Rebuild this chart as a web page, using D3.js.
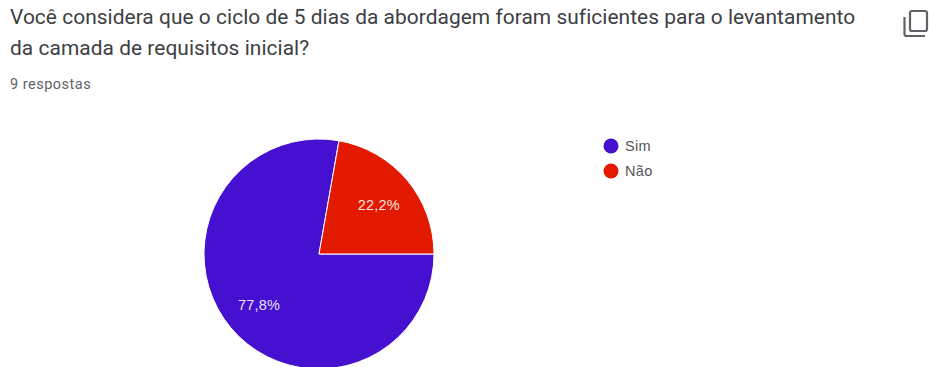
<!DOCTYPE html>
<html lang="pt">
<head>
<meta charset="utf-8">
<script src="https://cdn.jsdelivr.net/npm/d3@7/dist/d3.min.js"></script>
<style>
  html, body { margin: 0; padding: 0; background: #fff; overflow: hidden; }
  svg { display: block; }
</style>
</head>
<body>
<svg id="chart" width="929" height="367"></svg>
<script>
const titleLines = [
  "Você considera que o ciclo de 5 dias da abordagem foram suficientes para o levantamento",
  "da camada de requisitos inicial?"
];
const subtitle = "9 respostas";
const categories = ["Sim", "Não"];
const counts = [7, 2];
const sliceLabels = ["77,8%", "22,2%"];
const colors = ["#4510cf", "#e31a00"];

const svg = d3.select("#chart");

// Question heading and response count
svg.selectAll("text.title")
  .data(titleLines)
  .join("text")
  .attr("class", "title")
  .attr("x", 10)
  .attr("y", (d, i) => 24 + i * 31)
  .attr("font-family", "Roboto, sans-serif")
  .attr("font-size", 20.9)
  .attr("letter-spacing", 0.05)
  .attr("fill", "#3c4043")
  .text(d => d);

svg.append("text")
  .attr("x", 10)
  .attr("y", 89)
  .attr("font-family", "Roboto, sans-serif")
  .attr("font-size", 14.5)
  .attr("letter-spacing", 0.5)
  .attr("fill", "#5f6368")
  .text(subtitle);

// Copy icon, top right
const icon = svg.append("g")
  .attr("fill", "none")
  .attr("stroke", "#5f6368")
  .attr("stroke-width", 2.2);
icon.append("rect")
  .attr("x", 910).attr("y", 11).attr("width", 17).attr("height", 20).attr("rx", 2);
icon.append("path")
  .attr("d", "M904.5 17 V34 Q904.5 36 906.5 36 H925");

// Pie, clockwise from the three o'clock position
const cx = 319, cy = 254, radius = 115;
const pie = d3.pie().sort(null).startAngle(Math.PI / 2).endAngle(Math.PI / 2 + 2 * Math.PI);
const arc = d3.arc().innerRadius(0).outerRadius(radius);
const labelArc = d3.arc().innerRadius(radius * 0.68).outerRadius(radius * 0.68);
const arcs = pie(counts);

const chart = svg.append("g").attr("transform", `translate(${cx},${cy})`);
chart.selectAll("path")
  .data(arcs)
  .join("path")
  .attr("d", arc)
  .attr("fill", (d, i) => colors[i])
  .attr("stroke", "#fff")
  .attr("stroke-width", 1);

chart.selectAll("text")
  .data(arcs)
  .join("text")
  .attr("transform", d => `translate(${labelArc.centroid(d)})`)
  .attr("text-anchor", "middle")
  .attr("dy", "0.42em")
  .attr("font-family", "'Liberation Sans', Arial, sans-serif")
  .attr("font-size", 14.5)
  .attr("letter-spacing", 0.2)
  .attr("fill", "#fff")
  .attr("fill-opacity", 0.9)
  .text((d, i) => sliceLabels[i]);

// Legend
const legend = svg.append("g")
  .selectAll("g")
  .data(categories)
  .join("g")
  .attr("transform", (d, i) => `translate(611,${146 + i * 25})`);
legend.append("circle")
  .attr("r", 7.5)
  .attr("fill", (d, i) => colors[i]);
legend.append("text")
  .attr("x", 14)
  .attr("dy", "0.35em")
  .attr("font-family", "'Liberation Sans', Arial, sans-serif")
  .attr("font-size", 14.5)
  .attr("letter-spacing", 0.3)
  .attr("fill", "#555")
  .text(d => d);
</script>
</body>
</html>
